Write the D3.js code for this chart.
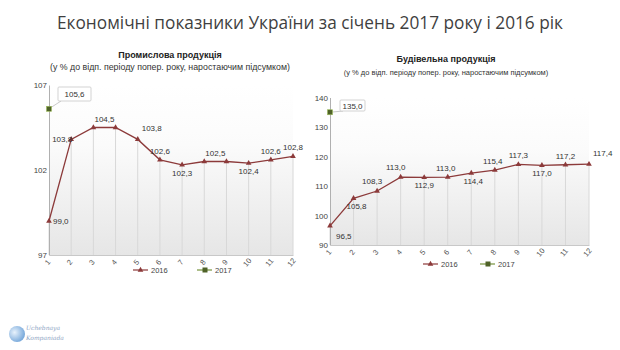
<!DOCTYPE html>
<html><head><meta charset="utf-8">
<script src="https://cdn.jsdelivr.net/npm/d3@7/dist/d3.min.js"></script>
<style>body{margin:0;background:#fff}svg{display:block}</style>
</head><body>
<svg id="c" width="620" height="350"></svg>
<script>
const months = ["1","2","3","4","5","6","7","8","9","10","11","12"];
const ind2016 = [99.0,103.8,104.5,104.5,103.8,102.6,102.3,102.5,102.5,102.4,102.6,102.8];
const ind2017 = [105.6];
const con2016 = [96.5,105.8,108.3,113.0,112.9,113.0,114.4,115.4,117.3,117.0,117.2,117.4];
const con2017 = [135.0];
const indTicks = [97,102,107];
const conTicks = [90,100,110,120,130,140];
const seriesNames = ["2016","2017"];

const svg = d3.select("#c");
const defs = svg.append("defs");
const g = defs.append("linearGradient").attr("id","bg").attr("x1",0).attr("y1",0).attr("x2",0).attr("y2",1);
g.append("stop").attr("offset","0%").attr("stop-color","#ffffff");
g.append("stop").attr("offset","35%").attr("stop-color","#fbfbfb");
g.append("stop").attr("offset","100%").attr("stop-color","#e6e6e6");
const lg = defs.append("radialGradient").attr("id","logo").attr("cx","35%").attr("cy","40%").attr("r","70%");
lg.append("stop").attr("offset","0%").attr("stop-color","#e8f2fc");
lg.append("stop").attr("offset","100%").attr("stop-color","#6fa3d8");

svg.append("text").attr("x",310).attr("y",29).attr("text-anchor","middle")
  .attr("font-family","'Open Sans',sans-serif").attr("font-size",19).attr("fill","#3f3f3f")
  .attr("textLength",506).attr("lengthAdjust","spacingAndGlyphs")
  .text("Економічні показники України за січень 2017 року і 2016 рік");

const lineColor = "#8c3a3a", c17 = "#4f6228";
const tri = d3.symbol().type(d3.symbolTriangle).size(14);

function chart(o){
  const x = d3.scaleLinear().domain([1,12]).range([o.x0,o.x1]);
  const y = d3.scaleLinear().domain(o.dom).range([o.y1,o.y0]);
  const G = svg.append("g").attr("font-family","'Liberation Sans',Arial,sans-serif");
  G.append("text").attr("x",o.cx).attr("y",o.ty).attr("text-anchor","middle").attr("font-weight","bold")
    .attr("font-size",o.tfs).attr("fill","#222").text(o.title);
  G.append("text").attr("x",o.cx).attr("y",o.sy).attr("text-anchor","middle")
    .attr("font-size",o.sfs).attr("fill","#333").text("(у % до відп. періоду попер. року, наростаючим підсумком)");
  G.append("rect").attr("x",o.x0).attr("y",o.y0).attr("width",o.x1-o.x0).attr("height",o.y1-o.y0).attr("fill","url(#bg)");
  G.selectAll(".drop").data(o.s16).join("line")
    .attr("x1",(d,i)=>x(i+1)).attr("x2",(d,i)=>x(i+1)).attr("y1",d=>y(d)).attr("y2",o.y1)
    .attr("stroke","#d8d8d8").attr("stroke-width",1);
  const ya = d3.axisLeft(y).tickValues(o.ticks).tickSize(0).tickPadding(2).tickFormat(d3.format("d"));
  const yg = G.append("g").attr("transform",`translate(${o.x0},0)`).call(ya);
  yg.select(".domain").attr("stroke","#b0b0b0");
  yg.selectAll("text").attr("font-size",8).attr("fill","#444").attr("font-family","'Liberation Sans',Arial,sans-serif");
  const xa = d3.axisBottom(x).tickValues(d3.range(1,13)).tickSize(0).tickFormat(d=>months[d-1]);
  const xg = G.append("g").attr("transform",`translate(0,${o.y1})`).call(xa);
  xg.select(".domain").attr("stroke","#c8c8c8");
  xg.selectAll("text").attr("font-size",7.5).attr("fill","#555").attr("font-family","'Liberation Sans',Arial,sans-serif")
    .attr("text-anchor","middle").attr("dy",0).attr("y",0)
    .attr("transform","translate(0,9) rotate(-50)");
  const line = d3.line().x((d,i)=>x(i+1)).y(d=>y(d));
  G.append("path").datum(o.s16).attr("d",line).attr("fill","none").attr("stroke",lineColor).attr("stroke-width",1.3);
  G.selectAll(".m").data(o.s16).join("path").attr("d",tri)
    .attr("transform",(d,i)=>`translate(${x(i+1)},${y(d)})`).attr("fill",lineColor);
  const fmt = v=>d3.format(".1f")(v).replace(".",",");
  o.s16.forEach((v,i)=>{
    const p = o.lp[i]; if(p==="none") return;
    let px = x(i+1), py = y(v), a="middle";
    if(p==="above"){py-=6;}
    else if(p==="below"){py+=11;}
    else if(p==="right"){px+=4;py+=3;a="start";}
    else if(p==="left"){px+=1;py+=3;a="end";}
    else if(p==="midabove"){px=(x(i+1)+x(i+2))/2;py-=6;}
    else if(p==="aboveright"){px+=4;py-=8;a="start";}
    else if(p==="aboveleft"){px-=5;py-=7;}
    else if(p==="belowright"){px+=6;py+=13;a="start";}
    G.append("text").attr("x",px+(o.ldx[i]||0)).attr("y",py).attr("text-anchor",a)
      .attr("font-size",8).attr("fill","#333").text(fmt(v));
  });
  o.s17.forEach((v,i)=>{
    const px=x(i+1), py=y(v);
    G.append("line").attr("x1",px).attr("y1",py).attr("x2",o.box[0]+3).attr("y2",o.box[1]+o.box[3])
      .attr("stroke","#bbb").attr("stroke-width",0.8);
    G.append("rect").attr("x",o.box[0]).attr("y",o.box[1]).attr("width",o.box[2]).attr("height",o.box[3])
      .attr("fill","#fff").attr("stroke","#c8c8c8").attr("stroke-width",0.8).attr("rx",1);
    G.append("text").attr("x",o.box[0]+o.box[2]/2).attr("y",o.box[1]+o.box[3]/2+3).attr("text-anchor","middle")
      .attr("font-size",8).attr("fill","#333").text(fmt(v));
    G.append("rect").attr("x",px-2.5).attr("y",py-2.5).attr("width",5).attr("height",5)
      .attr("fill",c17).attr("stroke","#9bbb59").attr("stroke-width",0.6);
  });
  const L = G.append("g").attr("transform",`translate(${o.lx},${o.ly})`);
  seriesNames.forEach((n,i)=>{
    const ox = i*o.lsp, col = i===0?lineColor:"#77933c";
    L.append("line").attr("x1",ox).attr("x2",ox+15).attr("y1",0).attr("y2",0).attr("stroke",col).attr("stroke-width",1.2);
    if(i===0) L.append("path").attr("d",tri).attr("transform",`translate(${ox+7.5},0)`).attr("fill",lineColor);
    else L.append("rect").attr("x",ox+5.5).attr("y",-2.5).attr("width",5).attr("height",5).attr("fill",c17);
    L.append("text").attr("x",ox+18).attr("y",3).attr("font-size",7.5).attr("fill","#444").text(n);
  });
}

chart({x0:49,x1:293,y0:85,y1:255,dom:[97,107],ticks:indTicks,s16:ind2016,s17:ind2017,
  title:"Промислова продукція",cx:170,ty:58,sy:70,tfs:9,sfs:8.8,
  lp:["right","left","midabove","none","aboveright","above","below","midabove","none","below","above","above"],
  ldx:[],box:[58,87,33,14],lx:133,ly:270,lsp:64});
chart({x0:330,x1:589,y0:97.5,y1:245,dom:[90,140],ticks:conTicks,s16:con2016,s17:con2017,
  title:"Будівельна продукція",cx:446,ty:62,sy:75,tfs:9,sfs:7.5,
  lp:["belowright","below","aboveleft","aboveleft","below","above","below","above","above","below","above","aboveright"],
  ldx:[0,3,0,0,0,-2,2,-2,0,0,0,0],box:[340,100,25,11],lx:423,ly:264,lsp:57});

svg.append("circle").attr("cx",17).attr("cy",334).attr("r",8).attr("fill","url(#logo)");
svg.append("text").attr("x",26).attr("y",330).attr("font-family","'DejaVu Serif',serif").attr("font-style","italic")
  .attr("font-size",6).attr("fill","#8ea4c4").text("Uchebnaya");
svg.append("text").attr("x",26).attr("y",340).attr("font-family","'DejaVu Serif',serif").attr("font-style","italic")
  .attr("font-size",6).attr("fill","#8ea4c4").text("Kompaniada");
</script>
</body></html>
